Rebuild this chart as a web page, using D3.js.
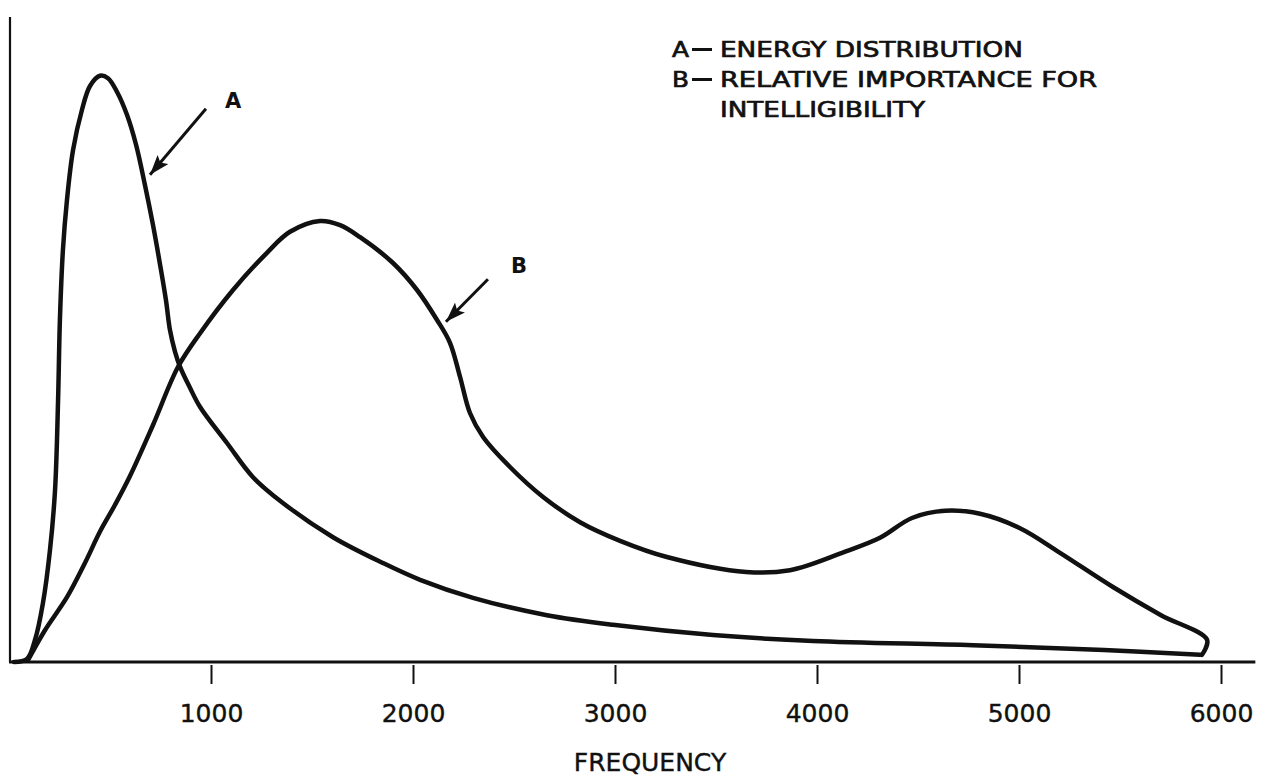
<!DOCTYPE html>
<html>
<head>
<meta charset="utf-8">
<script src="https://cdn.jsdelivr.net/npm/d3@7/dist/d3.min.js"></script>
<style>
  html, body { margin: 0; padding: 0; background: #fff; }
  svg { display: block; }
  text { font-family: "DejaVu Sans", sans-serif; fill: #111; }
</style>
</head>
<body>
<svg id="chart" width="1270" height="780"></svg>
<script>
// ---- Data (frequency in Hz, relative value 0-100) ----
const ticksX = [1000, 2000, 3000, 4000, 5000, 6000];
const xLabel = "FREQUENCY";
const legendLines = [
  { key: "A", text: "ENERGY DISTRIBUTION" },
  { key: "B", text: "RELATIVE IMPORTANCE FOR" },
  { key: "",  text: "INTELLIGIBILITY" }
];

const curveA_freq = [25, 89, 129, 168, 203, 228, 243, 252, 267, 287, 317, 361, 401, 450, 490, 535, 584, 629, 673, 713, 748, 777, 797, 822, 847, 896, 946, 1079, 1208, 1356, 1604, 1851, 2035, 2297, 2663, 2990, 3485, 3980, 4772, 5421, 5896];
const curveA_val  = [0, 0.5, 3.7, 9.8, 18.7, 28.7, 43.7, 57, 68.7, 77, 85.3, 92, 96, 97.7, 97.3, 95, 91.2, 86.2, 79.5, 72.8, 66.2, 60.3, 55.3, 51.7, 49.2, 45.7, 42.5, 36.5, 30.8, 26.5, 20.8, 16.5, 13.7, 10.7, 7.8, 6.2, 4.5, 3.5, 2.8, 2.0, 1.2];

const curveB_freq = [94, 178, 287, 376, 450, 525, 599, 713, 837, 946, 1109, 1277, 1391, 1540, 1639, 1738, 1901, 2020, 2119, 2183, 2233, 2282, 2347, 2480, 2644, 2827, 3025, 3257, 3649, 3866, 4124, 4312, 4470, 4634, 4807, 5005, 5203, 5465, 5703, 5931, 5906];
const curveB_val  = [0.3, 5.3, 10.8, 16.5, 21.7, 26.2, 31, 39.5, 49.2, 54.8, 62, 68.2, 71.7, 73.5, 72.8, 70.8, 66.5, 62, 57, 53.2, 47.5, 41.5, 37.5, 32.5, 27.5, 23.3, 20.2, 17.5, 15, 15.3, 18.2, 20.7, 24, 25.2, 24.7, 22.3, 18.2, 12.5, 7.8, 3.7, 1.2];

// annotation anchors (data units)
const annotA = { label: "A", from: [975, 92.2], to: [698, 81.2], text: [1069, 92.3] };
const annotB = { label: "B", from: [2371, 63.8], to: [2163, 56.7], text: [2485, 64.8] };

// ---- Layout ----
const svg = d3.select("#chart");
const x = d3.scaleLinear().domain([0, 6000]).range([9, 1221]);
const y = d3.scaleLinear().domain([0, 100]).range([662, 62]);

// Y axis line
svg.append("line")
  .attr("x1", 10).attr("x2", 10)
  .attr("y1", y(107.5)).attr("y2", y(0))
  .attr("stroke", "#111").attr("stroke-width", 2.2);

// X axis
const xAxis = d3.axisBottom(x).tickValues(ticksX).tickSize(0).tickFormat(d3.format("d"));
const gx = svg.append("g").attr("transform", `translate(0,${y(0)})`).call(xAxis);
gx.select(".domain").remove();
gx.selectAll(".tick text")
  .attr("y", 60).attr("dy", 0)
  .style("font-size", "25px")
  .style("font-family", "'DejaVu Sans', sans-serif")
  .attr("fill", "#111")
  .attr("stroke", "#111").attr("stroke-width", 0.4);
gx.selectAll(".tick").append("line")
  .attr("y1", 3).attr("y2", 22)
  .attr("stroke", "#111").attr("stroke-width", 2);
svg.append("line")
  .attr("x1", x(0)).attr("x2", x(6170))
  .attr("y1", y(0)).attr("y2", y(0))
  .attr("stroke", "#111").attr("stroke-width", 3.2);

svg.append("text")
  .attr("x", 650).attr("y", 771)
  .attr("text-anchor", "middle")
  .style("font-size", "25px")
  .attr("stroke", "#111").attr("stroke-width", 0.4)
  .text(xLabel);

// Curves
const line = d3.line()
  .x(d => x(d[0])).y(d => y(d[1]))
  .curve(d3.curveCatmullRom.alpha(0.5));

const dataA = curveA_freq.map((f, i) => [f, curveA_val[i]]);
const dataB = curveB_freq.map((f, i) => [f, curveB_val[i]]);

svg.append("path").datum(dataA)
  .attr("d", line).attr("fill", "none")
  .attr("stroke", "#111").attr("stroke-width", 4.5)
  .attr("stroke-linejoin", "round").attr("stroke-linecap", "round");
svg.append("path").datum(dataB)
  .attr("d", line).attr("fill", "none")
  .attr("stroke", "#111").attr("stroke-width", 4.5)
  .attr("stroke-linejoin", "round").attr("stroke-linecap", "round");

// Arrows
svg.append("defs").append("marker")
  .attr("id", "arrowhead")
  .attr("viewBox", "0 0 20 14")
  .attr("refX", 20).attr("refY", 7)
  .attr("markerWidth", 20).attr("markerHeight", 14)
  .attr("markerUnits", "userSpaceOnUse")
  .attr("orient", "auto")
  .append("path").attr("d", "M0,0 L20,7 L0,14 L4,7 Z").attr("fill", "#111");

[annotA, annotB].forEach(a => {
  svg.append("line")
    .attr("x1", x(a.from[0])).attr("y1", y(a.from[1]))
    .attr("x2", x(a.to[0])).attr("y2", y(a.to[1]))
    .attr("stroke", "#111").attr("stroke-width", 3)
    .attr("marker-end", "url(#arrowhead)");
  svg.append("text")
    .attr("x", x(a.text[0])).attr("y", y(a.text[1]))
    .style("font-size", "21px").style("font-weight", "bold")
    .text(a.label);
});

// Legend
const legendX = 720, legendY0 = 57, legendDy = 30;
const legendWidths = [303, 377, 205];
legendLines.forEach((l, i) => {
  const yy = legendY0 + i * legendDy;
  if (l.key) {
    svg.append("text")
      .attr("x", 672).attr("y", yy)
      .style("font-size", "21px")
      .attr("stroke", "#111").attr("stroke-width", 0.7)
      .attr("textLength", 17).attr("lengthAdjust", "spacingAndGlyphs")
      .text(l.key);
    svg.append("line")
      .attr("x1", 692).attr("x2", 712)
      .attr("y1", yy - 7.5).attr("y2", yy - 7.5)
      .attr("stroke", "#111").attr("stroke-width", 3);
  }
  svg.append("text")
    .attr("x", legendX).attr("y", yy)
    .style("font-size", "21px")
    .attr("stroke", "#111").attr("stroke-width", 0.7)
    .attr("textLength", legendWidths[i]).attr("lengthAdjust", "spacingAndGlyphs")
    .text(l.text);
});
</script>
</body>
</html>
